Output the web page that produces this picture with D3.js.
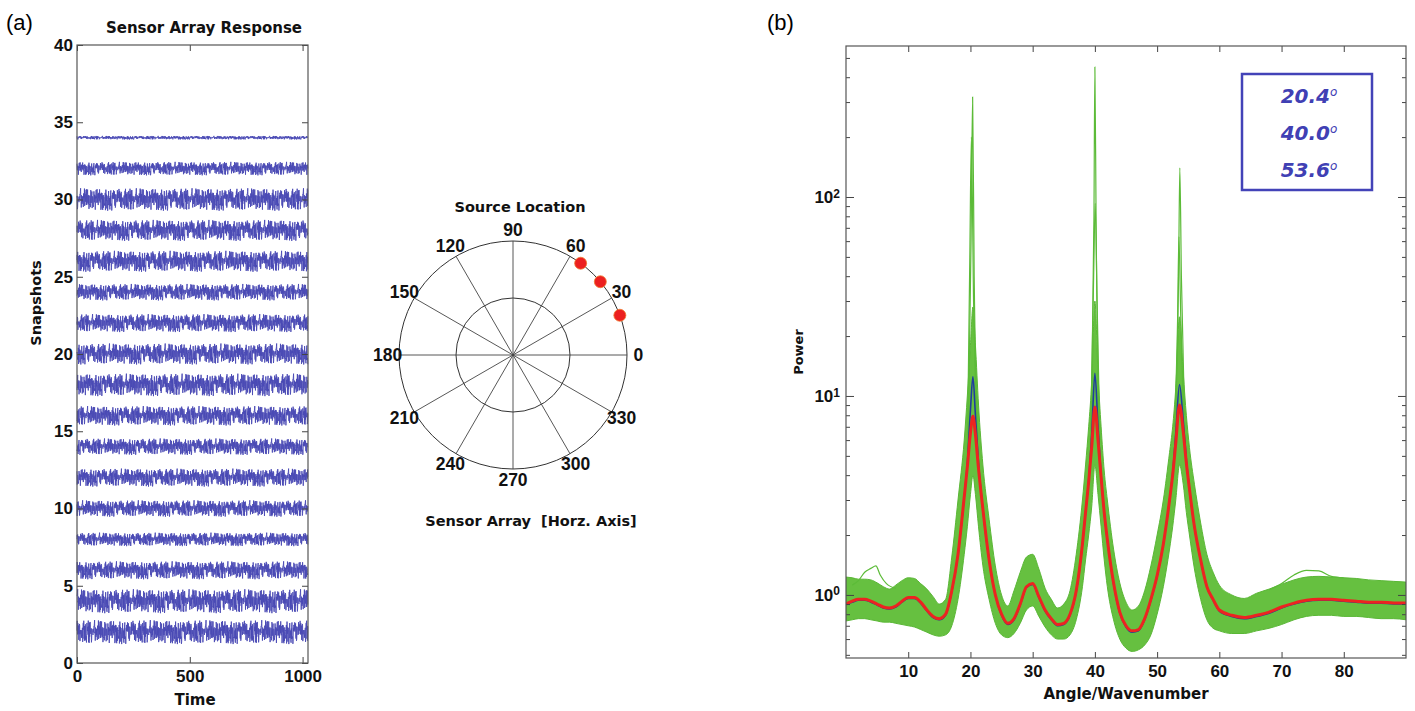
<!DOCTYPE html>
<html>
<head>
<meta charset="utf-8">
<script src="https://cdn.jsdelivr.net/npm/d3@7"></script>
<style>
  body { margin: 0; background: #fff; }
  svg text { font-family: "DejaVu Sans", sans-serif; }
  .tick text { font-family: "Liberation Sans", Arial, sans-serif; font-weight: bold; font-size: 17px; fill: #111; }
  .tick line { stroke: #444; }
  .lbl { font-weight: bold; fill: #111; }
</style>
</head>
<body>
<svg id="chart" width="1415" height="711"></svg>
<script>
// ---- panel (a): sensor array response ----
const traceLevels = [2, 4, 6, 8, 10, 12, 14, 16, 18, 20, 22, 24, 26, 28, 30, 32, 34];
const traceAmps = [0.8, 0.8, 0.6, 0.45, 0.55, 0.6, 0.55, 0.65, 0.75, 0.7, 0.6, 0.55, 0.7, 0.7, 0.75, 0.45, 0.12];
const samplesPerTrace = 1024;
// hand typed noise table, traces read from it
const noiseTable = [0.12,-0.45,0.78,-0.23,0.05,-0.67,0.34,0.91,-0.15,-0.52,0.27,-0.08,0.63,-0.88,0.19,0.41,-0.36,0.02,-0.71,0.55,
0.24,-0.19,0.86,-0.44,-0.03,0.38,-0.59,0.13,0.72,-0.27,-0.95,0.47,0.09,-0.33,0.61,-0.12,0.29,-0.76,0.44,0.17,
-0.58,0.83,-0.06,-0.41,0.35,0.68,-0.22,-0.84,0.11,0.53,-0.31,0.07,0.97,-0.49,-0.14,0.26,-0.63,0.39,0.58,-0.09,
-0.37,0.74,-0.28,0.15,-0.81,0.46,0.03,-0.54,0.31,0.89,-0.17,-0.42,0.21,-0.69,0.57,0.08,-0.25,0.66,-0.47,0.14,
0.37,-0.92,0.23,-0.05,0.51,-0.34,0.79,-0.11,-0.61,0.43,0.18,-0.73,0.32,0.04,-0.39,0.85,-0.21,0.49,-0.56,0.1,
0.62,-0.3,-0.07,0.93,-0.48,0.16,-0.66,0.36,0.25,-0.13,-0.82,0.54,0.06,-0.35,0.71,-0.24,0.42,-0.6,0.2,-0.01,
0.81,-0.43,0.28,-0.77,0.48,0.11,-0.18,0.64,-0.53,-0.04,0.33,-0.87,0.59,0.16,-0.29,0.45,-0.64,0.22,0.76,-0.1,
-0.46,0.3,-0.7,0.52,0.01,-0.38,0.87,-0.2,0.4,-0.57,0.14,-0.97,0.6,0.07,-0.32,0.69,-0.16,0.26,-0.5,0.82,
-0.26,0.09,-0.74,0.43,0.19,-0.4,0.65,-0.09,0.35,-0.62,0.12,0.94,-0.45,-0.02,0.5,-0.79,0.27,0.05,-0.55,0.73,
-0.14,0.38,-0.68,0.22,-0.06,0.84,-0.36,0.17,-0.89,0.56,0.1,-0.23,0.67,-0.5,0.31,-0.12,0.75,-0.65,0.04,0.44,
-0.28,-0.83,0.58,0.2,-0.42,0.8,-0.19,0.13,-0.6,0.37,0.92,-0.31,-0.08,0.47,-0.72,0.24,0.02,-0.52,0.7,-0.15,
0.39,-0.86,0.18,0.55,-0.37,-0.11,0.63,-0.47,0.29,0.08,-0.78,0.5,-0.24,0.15,0.88,-0.56,-0.03,0.34,-0.69,0.41,
0.21,-0.44,0.6,-0.13,-0.9,0.46,0.06];
const timeTicks = [0, 500, 1000];
const snapTicks = [0, 5, 10, 15, 20, 25, 30, 35, 40];

// ---- polar: source location ----
const polarAngles = [0, 30, 60, 90, 120, 150, 180, 210, 240, 270, 300, 330];
const sourceAngles = [20.4, 40.0, 53.6];

// ---- panel (b): spectra ----
const angles = [0,1,2,3,4,5,6,7,8,9,10,11,12,13,14,15,16,17,18,19,19.5,20,20.4,20.8,21.3,22,23,24,25,26,27,28,29,30,31,32,33,34,35,36,37,38,38.5,39,39.5,40,40.5,41,41.5,42,43,44,45,46,47,48,49,50,51,52,52.5,53,53.6,54.2,54.7,55.2,56,57,58,59,60,62,64,66,68,70,72,74,76,78,80,82,84,86,88,90];
const meanPower = [0.90,0.93,0.95,0.95,0.93,0.90,0.87,0.86,0.88,0.93,0.97,0.97,0.92,0.84,0.78,0.76,0.80,1.05,1.6,3.1,4.4,6.5,7.9,6.4,4.3,2.7,1.5,1.0,0.80,0.72,0.76,0.90,1.10,1.14,0.98,0.84,0.76,0.71,0.72,0.80,1.05,1.8,2.6,3.7,5.6,8.8,6.0,3.9,2.6,1.9,1.15,0.82,0.70,0.66,0.67,0.76,0.95,1.25,1.8,3.0,4.0,5.8,9.0,6.6,4.6,3.4,2.2,1.5,1.1,0.95,0.84,0.79,0.77,0.79,0.82,0.87,0.91,0.94,0.95,0.95,0.94,0.93,0.92,0.92,0.91,0.91];
const medianPower = [0.90,0.92,0.94,0.94,0.92,0.89,0.86,0.85,0.87,0.92,0.96,0.96,0.91,0.83,0.77,0.75,0.79,1.04,1.6,3.1,4.6,8.5,12.5,8.0,4.6,2.7,1.5,1.0,0.79,0.71,0.75,0.89,1.09,1.13,0.97,0.83,0.75,0.70,0.71,0.79,1.04,1.8,2.6,3.8,6.5,13,7.0,4.0,2.6,1.9,1.14,0.81,0.69,0.65,0.66,0.75,0.94,1.24,1.8,3.0,4.1,6.5,11.4,7.5,4.8,3.4,2.2,1.5,1.1,0.94,0.83,0.78,0.76,0.78,0.81,0.86,0.90,0.93,0.94,0.94,0.93,0.92,0.91,0.91,0.90,0.90];
const bandLow = [0.74,0.75,0.76,0.76,0.75,0.74,0.73,0.73,0.72,0.71,0.70,0.69,0.67,0.65,0.63,0.62,0.63,0.70,0.95,1.6,2.2,3.2,4.0,3.2,2.2,1.4,0.95,0.72,0.63,0.61,0.64,0.72,0.84,0.88,0.78,0.69,0.63,0.60,0.60,0.63,0.75,1.1,1.5,2.0,2.8,4.5,3.2,2.2,1.5,1.1,0.75,0.60,0.54,0.52,0.53,0.56,0.63,0.80,1.1,1.7,2.2,3.0,4.5,3.6,2.6,2.0,1.35,0.95,0.75,0.68,0.66,0.64,0.64,0.66,0.68,0.71,0.75,0.78,0.79,0.79,0.78,0.78,0.77,0.76,0.76,0.75];
const bandHigh = [1.23,1.22,1.20,1.20,1.19,1.15,1.10,1.07,1.12,1.18,1.22,1.21,1.14,1.07,0.98,0.90,0.95,1.55,3.0,6.0,10,18,28,18,9,4.5,2.4,1.4,1.0,0.88,1.05,1.3,1.55,1.6,1.35,1.08,0.95,0.86,0.90,1.05,1.6,3.0,4.5,7,12,30,13,7,4.2,3.0,1.7,1.15,0.92,0.84,0.88,1.05,1.4,2.0,3.0,5.2,7,11,25,13,8,5.5,3.6,2.3,1.6,1.3,1.12,1.0,0.96,1.02,1.07,1.13,1.19,1.23,1.24,1.23,1.22,1.21,1.19,1.18,1.17,1.16];
// individual green traces standing out of the band: [angle, power]
const outlierTraces = [
  [[19.6,5],[20.1,60],[20.35,318],[20.6,40],[21.2,6]],
  [[19.5,5],[19.9,50],[20.15,200],[20.5,30],[21.0,6]],
  [[39.4,6],[39.85,80],[40.0,450],[40.2,70],[40.7,7]],
  [[39.3,6],[39.8,40],[40.05,93],[40.35,30],[40.8,6]],
  [[53.0,8],[53.45,40],[53.65,140],[53.9,40],[54.4,8]],
  [[52.8,7],[53.3,25],[53.5,63],[53.8,25],[54.3,7]],
  [[1,1.12],[2,1.18],[3,1.3],[4,1.36],[4.8,1.4],[5.5,1.26],[6.5,1.14],[8,1.08]],
  [[68,1.06],[70,1.14],[72,1.26],[74,1.33],[76,1.32],[78,1.24],[80,1.22]]
];
const angleTicks = [10, 20, 30, 40, 50, 60, 70, 80];
const powerMajor = [1, 10, 100];
const powerMinor = [0.5,0.6,0.7,0.8,0.9,2,3,4,5,6,7,8,9,20,30,40,50,60,70,80,90,200,300,400,500];
const legendLabels = ['20.4', '40.0', '53.6'];

const svg = d3.select('#chart');

// ============ panel (a) ============
const aX = d3.scaleLinear().domain([0, 1024]).range([77, 308]);
const aY = d3.scaleLinear().domain([0, 40]).range([663, 45]);

const traceLine = d3.line().x((d, i) => aX(i)).y(d => aY(d));
const N = noiseTable.length;
svg.append('g')
  .selectAll('path')
  .data(traceLevels)
  .join('path')
  .attr('fill', 'none')
  .attr('stroke', '#4a4ab4')
  .attr('stroke-width', 0.9)
  .attr('d', (lvl, k) => {
    const vals = d3.range(samplesPerTrace).map(i => lvl + traceAmps[k] * noiseTable[(i * 7 + k * 31) % N]);
    return traceLine(vals);
  });

svg.append('g').attr('transform', 'translate(0,663)')
  .call(d3.axisBottom(aX).tickValues(timeTicks).tickFormat(d3.format('d'))
    .tickSizeInner(-6).tickSizeOuter(0).tickPadding(7))
  .call(g => g.select('.domain').remove());
svg.append('g').attr('transform', 'translate(0,45)')
  .call(d3.axisTop(aX).tickValues(timeTicks).tickSizeInner(-6).tickSizeOuter(0).tickFormat(''))
  .call(g => g.select('.domain').remove());
svg.append('g').attr('transform', 'translate(77,0)')
  .call(d3.axisLeft(aY).tickValues(snapTicks).tickSizeInner(-6).tickSizeOuter(0).tickPadding(4))
  .call(g => g.select('.domain').remove());
svg.append('g').attr('transform', 'translate(308,0)')
  .call(d3.axisRight(aY).tickValues(snapTicks).tickSizeInner(-6).tickSizeOuter(0).tickFormat(''))
  .call(g => g.select('.domain').remove());
svg.append('rect').attr('x', 77).attr('y', 45).attr('width', 231).attr('height', 618)
  .attr('fill', 'none').attr('stroke', '#555').attr('stroke-width', 1.2);

svg.append('text').attr('x', 6).attr('y', 30).attr('font-size', 22)
  .style('font-family', '"Liberation Sans", Arial, sans-serif').text('(a)');
svg.append('text').attr('class', 'lbl').attr('x', 204).attr('y', 33).attr('text-anchor', 'middle')
  .attr('font-size', 15).text('Sensor Array Response');
svg.append('text').attr('class', 'lbl').attr('x', 195).attr('y', 705).attr('text-anchor', 'middle')
  .attr('font-size', 15).text('Time');
svg.append('text').attr('class', 'lbl').attr('transform', 'translate(41,303) rotate(-90)')
  .attr('text-anchor', 'middle').attr('font-size', 14.5).text('Snapshots');

// ============ polar ============
const cx = 513, cy = 355;
const rS = d3.scaleLinear().domain([0, 1]).range([0, 114]);
const toRad = a => (90 - a) * Math.PI / 180;
const polar = svg.append('g').attr('transform', `translate(${cx},${cy})`);
polar.selectAll('circle.ring').data([0.5, 1]).join('circle')
  .attr('class', 'ring').attr('r', d => rS(d))
  .attr('fill', 'none').attr('stroke', '#333').attr('stroke-width', 1);
polar.selectAll('line.spoke').data(polarAngles).join('line')
  .attr('class', 'spoke')
  .attr('x1', 0).attr('y1', 0)
  .attr('x2', a => d3.pointRadial(toRad(a), rS(1))[0])
  .attr('y2', a => d3.pointRadial(toRad(a), rS(1))[1])
  .attr('stroke', '#444').attr('stroke-width', 0.9);
polar.selectAll('text.pl').data(polarAngles).join('text')
  .attr('class', 'pl')
  .attr('x', a => d3.pointRadial(toRad(a), rS(1.1))[0])
  .attr('y', a => d3.pointRadial(toRad(a), rS(1.1))[1])
  .attr('text-anchor', 'middle').attr('dominant-baseline', 'central')
  .style('font-family', '"Liberation Sans", Arial, sans-serif')
  .attr('font-weight', 'bold').attr('font-size', 17.5).attr('fill', '#111')
  .text(a => a);
polar.selectAll('circle.src').data(sourceAngles).join('circle')
  .attr('class', 'src')
  .attr('cx', a => d3.pointRadial(toRad(a), rS(1))[0])
  .attr('cy', a => d3.pointRadial(toRad(a), rS(1))[1])
  .attr('r', 6).attr('fill', '#ec2020').attr('stroke', '#f07a30').attr('stroke-width', 0.8);
svg.append('text').attr('class', 'lbl').attr('x', 520).attr('y', 212).attr('text-anchor', 'middle')
  .attr('font-size', 14.5).text('Source Location');
svg.append('text').attr('class', 'lbl').attr('x', 531).attr('y', 526).attr('text-anchor', 'middle')
  .attr('font-size', 14.5).attr('xml:space', 'preserve').style('white-space', 'pre')
  .text('Sensor Array  [Horz. Axis]');

// ============ panel (b) ============
const bL = 846, bR = 1406, bT = 46, bB = 658;
const bX = d3.scaleLinear().domain([0, 90]).range([bL, bR]);
const bY = d3.scaleLog().domain([0.482, 574]).range([bB, bT]);

svg.append('defs').append('clipPath').attr('id', 'clipB')
  .append('rect').attr('x', bL).attr('y', bT).attr('width', bR - bL).attr('height', bB - bT);

const rows = angles.map((a, i) => ({ a, mean: meanPower[i], med: medianPower[i], lo: bandLow[i], hi: bandHigh[i] }));
const plotB = svg.append('g').attr('clip-path', 'url(#clipB)');

plotB.append('path').datum(rows)
  .attr('fill', '#66c040').attr('stroke', '#5ab736').attr('stroke-width', 1)
  .attr('d', d3.area().curve(d3.curveMonotoneX).x(d => bX(d.a)).y0(d => bY(d.lo)).y1(d => bY(d.hi)));

plotB.selectAll('path.out').data(outlierTraces).join('path')
  .attr('class', 'out').attr('fill', 'none').attr('stroke', '#5cbb38').attr('stroke-width', 1.2)
  .attr('d', d3.line().curve(d3.curveMonotoneX).x(d => bX(d[0])).y(d => bY(d[1])));

plotB.append('path').datum(rows)
  .attr('fill', 'none').attr('stroke', '#1f3d9c').attr('stroke-width', 1.6)
  .attr('d', d3.line().curve(d3.curveMonotoneX).x(d => bX(d.a)).y(d => bY(d.med)));
plotB.append('path').datum(rows)
  .attr('fill', 'none').attr('stroke', '#ec2420').attr('stroke-width', 3)
  .attr('d', d3.line().curve(d3.curveMonotoneX).x(d => bX(d.a)).y(d => bY(d.mean)));

svg.append('g').attr('transform', `translate(0,${bB})`)
  .call(d3.axisBottom(bX).tickValues(angleTicks).tickSizeInner(-6).tickSizeOuter(0).tickPadding(7))
  .call(g => g.select('.domain').remove());
svg.append('g').attr('transform', `translate(0,${bT})`)
  .call(d3.axisTop(bX).tickValues(angleTicks).tickSizeInner(-6).tickSizeOuter(0).tickFormat(''))
  .call(g => g.select('.domain').remove());
[[bL, d3.axisLeft], [bR, d3.axisRight]].forEach(([xp, ax], side) => {
  svg.append('g').attr('transform', `translate(${xp},0)`)
    .call(ax(bY).tickValues(powerMinor).tickSizeInner(-4).tickSizeOuter(0).tickFormat(''))
    .call(g => g.select('.domain').remove());
  const major = svg.append('g').attr('transform', `translate(${xp},0)`)
    .call(ax(bY).tickValues(powerMajor).tickSizeInner(-8).tickSizeOuter(0).tickPadding(6)
      .tickFormat(side === 0 ? (d => d) : ''))
    .call(g => g.select('.domain').remove());
  if (side === 0) {
    major.selectAll('.tick text').each(function (d) {
      const t = d3.select(this);
      t.text(null);
      t.append('tspan').text('10');
      t.append('tspan').attr('dy', '-0.45em').attr('font-size', 12).text(Math.round(Math.log10(d)));
    });
  }
});
svg.append('rect').attr('x', bL).attr('y', bT).attr('width', bR - bL).attr('height', bB - bT)
  .attr('fill', 'none').attr('stroke', '#555').attr('stroke-width', 1.2);

svg.append('text').attr('x', 767).attr('y', 30).attr('font-size', 22)
  .style('font-family', '"Liberation Sans", Arial, sans-serif').text('(b)');
svg.append('text').attr('class', 'lbl').attr('x', 1126).attr('y', 699).attr('text-anchor', 'middle')
  .attr('font-size', 15).text('Angle/Wavenumber');
svg.append('text').attr('class', 'lbl').attr('transform', 'translate(803,352) rotate(-90)')
  .attr('text-anchor', 'middle').attr('font-size', 13).text('Power');

// legend box
const leg = svg.append('g');
leg.append('rect').attr('x', 1242).attr('y', 74).attr('width', 130).attr('height', 116)
  .attr('fill', '#fff').attr('stroke', '#4343b8').attr('stroke-width', 2.5);
const legY = d3.scalePoint().domain(legendLabels).range([103, 177]);
leg.selectAll('text').data(legendLabels).join('text')
  .attr('x', 1309).attr('y', d => legY(d)).attr('text-anchor', 'middle')
  .attr('font-size', 20).attr('font-style', 'italic').attr('font-weight', 'bold').attr('fill', '#4040b4')
  .each(function (d) {
    const t = d3.select(this);
    t.append('tspan').text(d);
    t.append('tspan').attr('dy', '-0.55em').attr('font-size', 12).attr('font-weight', 'normal').text('o');
  });
</script>
</body>
</html>
